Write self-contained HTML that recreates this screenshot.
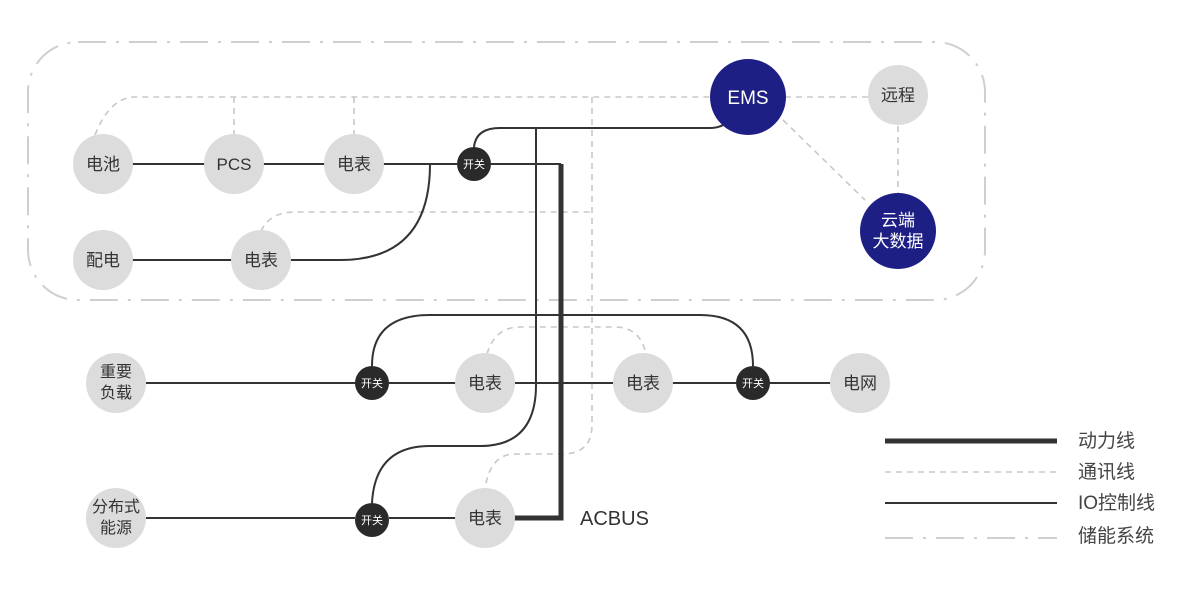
<!DOCTYPE html>
<html><head><meta charset="utf-8"><style>
html,body{margin:0;padding:0;background:#fff}
svg{display:block}
text{font-family:"Liberation Sans","Noto Sans CJK SC",sans-serif}
</style></head><body>
<svg width="1200" height="605" viewBox="0 0 1200 605" xmlns="http://www.w3.org/2000/svg">
<rect x="28" y="42" width="957" height="258" rx="50" fill="none" stroke="#cfcfcf" stroke-width="2" stroke-dasharray="28,10,3,10"/>
<g fill="none" stroke="#c8c8c8" stroke-width="1.6" stroke-dasharray="6,5">
<path d="M95,135 Q110,97 135,97 L710,97"/>
<path d="M234,97 V135 M354,97 V135"/>
<path d="M785,97 H868 M898,126 V193 M783,120 L865,200"/>
<path d="M592,97 V425 Q592,454 562,454 H515 Q490,454 485,489"/>
<path d="M261,231 Q270,212 295,212 H592"/>
<path d="M487,354 Q495,327 520,327 H615 Q640,327 646,354"/>
</g>
<g fill="none" stroke="#333" stroke-width="2">
<path d="M132,164 H205 M263,164 H325 M383,164 H457 M491,164 H561"/>
<path d="M430,164 Q430,260 340,260 H290 M132,260 H232"/>
<path d="M474,147 Q476,128 500,128 H710 Q722,128 730,120"/>
<path d="M536,128 V385 Q536,446 480,446 H430 Q375,446 372,503"/>
<path d="M146,383 H355 M389,383 H456 M514,383 H614 M672,383 H736 M770,383 H831"/>
<path d="M372,366 Q372,315 430,315 H700 Q753,315 753,366"/>
<path d="M146,518 H355 M389,518 H456"/>
</g>
<path d="M561,164 V518 H514" fill="none" stroke="#333" stroke-width="5"/>
<g fill="#dcdcdc">
<circle cx="103" cy="164" r="30"/><circle cx="234" cy="164" r="30"/><circle cx="354" cy="164" r="30"/>
<circle cx="103" cy="260" r="30"/><circle cx="261" cy="260" r="30"/>
<circle cx="898" cy="95" r="30"/>
<circle cx="116" cy="383" r="30"/><circle cx="485" cy="383" r="30"/><circle cx="643" cy="383" r="30"/><circle cx="860" cy="383" r="30"/>
<circle cx="116" cy="518" r="30"/><circle cx="485" cy="518" r="30"/>
</g>
<g fill="#1e1f85"><circle cx="748" cy="97" r="38"/><circle cx="898" cy="231" r="38"/></g>
<g fill="#2a2a2a"><circle cx="474" cy="164" r="17"/><circle cx="372" cy="383" r="17"/><circle cx="753" cy="383" r="17"/><circle cx="372" cy="520" r="17"/></g>
<g font-size="17" fill="#333" text-anchor="middle">
<text x="103" y="170">电池</text><text x="234" y="170">PCS</text><text x="354" y="170">电表</text>
<text x="103" y="266">配电</text><text x="261" y="266">电表</text><text x="898" y="101">远程</text>
<text x="485" y="389">电表</text><text x="643" y="389">电表</text><text x="860" y="389">电网</text>
<text x="485" y="524">电表</text>
<text x="116" y="377" font-size="16">重要</text><text x="116" y="398" font-size="16">负载</text>
<text x="116" y="512" font-size="16">分布式</text><text x="116" y="533" font-size="16">能源</text>
</g>
<g fill="#fff" text-anchor="middle">
<text x="748" y="104" font-size="19">EMS</text>
<text x="898" y="226" font-size="17">云端</text><text x="898" y="247" font-size="17">大数据</text>
<text x="474" y="168" font-size="11">开关</text><text x="372" y="387" font-size="11">开关</text>
<text x="753" y="387" font-size="11">开关</text><text x="372" y="524" font-size="11">开关</text>
</g>
<text x="580" y="525" font-size="20" fill="#333">ACBUS</text>
<path d="M885,441 H1057" stroke="#333" stroke-width="5"/>
<path d="M885,472 H1057" stroke="#c8c8c8" stroke-width="1.5" stroke-dasharray="6,5"/>
<path d="M885,503 H1057" stroke="#333" stroke-width="2"/>
<path d="M885,538 H1057" stroke="#cfcfcf" stroke-width="2" stroke-dasharray="28,10,3,10"/>
<g font-size="19" fill="#444">
<text x="1078" y="447">动力线</text><text x="1078" y="478">通讯线</text>
<text x="1078" y="509">IO控制线</text><text x="1078" y="542">储能系统</text>
</g>
</svg>
</body></html>
